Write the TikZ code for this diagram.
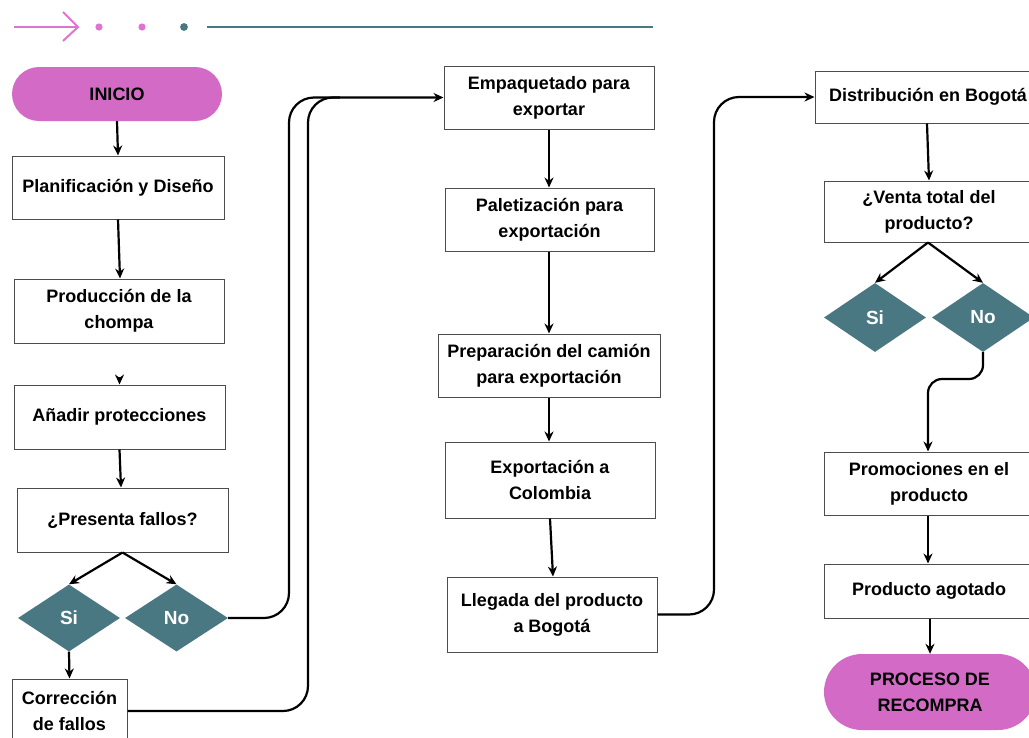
\documentclass[tikz,border=0pt]{standalone}
\usepackage{fontspec}
\setmainfont{Liberation Sans}
\usetikzlibrary{shapes.geometric,arrows.meta}

\definecolor{pinkfill}{HTML}{D36BC6}
\definecolor{tealfill}{HTML}{4A7882}
\definecolor{boxline}{HTML}{4D4D4D}
\definecolor{decopink}{HTML}{DC74D0}

\tikzset{
  stepbox/.style={draw=boxline, line width=1pt, fill=white, align=center,
    inner sep=0pt, font=\bfseries\fontsize{18}{26}\selectfont},
  pill/.style={fill=pinkfill, draw=none, align=center, inner sep=0pt,
    font=\bfseries\fontsize{18}{26}\selectfont},
  choice/.style={diamond, aspect=1.5, fill=tealfill, draw=none, inner sep=0pt,
    text=white, font=\bfseries\fontsize{19}{22}\selectfont},
  flow/.style={draw=black, line width=2.2pt, -{Stealth[length=10pt,width=9pt]}},
  curved/.style={flow, rounded corners=25pt},
}

\begin{document}
\begin{tikzpicture}[x=1pt,y=-1pt]
  \useasboundingbox (0,0) rectangle (1029,737);
  \clip (0,0) rectangle (1029,737);

  % header ornament
  \draw[decopink, line width=2pt] (14,27) -- (77,27);
  \draw[decopink, line width=2pt] (63,12) -- (78,27) -- (63,41);
  \fill[decopink] (99,27) circle (3.6pt);
  \fill[decopink] (142,27) circle (3.6pt);
  \fill[tealfill] (184,27) circle (3.9pt);
  \draw[tealfill, line width=2.6pt] (207,27) -- (653,27);

  % left column
  \node[pill, minimum width=210pt, minimum height=54pt, rounded corners=27pt] (inicio) at (117,94) {INICIO};
  \node[stepbox, minimum width=212pt, minimum height=63pt] (plan) at (118,187.5) {Planificación y Diseño};
  \node[stepbox, minimum width=210pt, minimum height=64pt] (prod) at (119,311) {Producción de la\\chompa};
  \node[stepbox, minimum width=211pt, minimum height=64pt] (anadir) at (119.5,417) {Añadir protecciones};
  \node[stepbox, minimum width=211pt, minimum height=64pt] (fallos) at (122.5,520) {¿Presenta fallos?};
  \node[choice, minimum width=102pt, minimum height=67pt] (si1) at (69,618) {Si};
  \node[choice, minimum width=103pt, minimum height=67pt] (no1) at (176.5,618) {No};
  \node[stepbox, minimum width=115pt, minimum height=63pt] (correc) at (69.5,710.5) {Corrección\\de fallos};

  % middle column
  \node[stepbox, minimum width=210pt, minimum height=63pt] (emp) at (549,97.5) {Empaquetado para\\exportar};
  \node[stepbox, minimum width=209pt, minimum height=63pt] (pal) at (549.5,219.5) {Paletización para\\exportación};
  \node[stepbox, minimum width=222pt, minimum height=63pt] (prep) at (549,365.5) {Preparación del camión\\para exportación};
  \node[stepbox, minimum width=210pt, minimum height=76pt] (expo) at (550,480) {Exportación a\\Colombia};
  \node[stepbox, minimum width=210pt, minimum height=75pt] (lleg) at (552,614.5) {Llegada del producto\\a Bogotá};

  % right column
  \node[stepbox, minimum width=226pt, minimum height=52pt] (dist) at (928,97) {Distribución en Bogotá};
  \node[stepbox, minimum width=210pt, minimum height=61pt] (venta) at (929,211.5) {¿Venta total del\\producto?};
  \node[choice, minimum width=102pt, minimum height=69pt] (si2) at (875,317.5) {Si};
  \node[choice, minimum width=102pt, minimum height=69pt] (no2) at (983,317.5) {No};
  \node[stepbox, minimum width=210pt, minimum height=63pt] (promo) at (929,483.5) {Promociones en el\\producto};
  \node[stepbox, minimum width=210pt, minimum height=54pt] (agot) at (929,591) {Producto agotado};
  \node[pill, minimum width=212pt, minimum height=76pt, rounded corners=38pt] (recompra) at (930,692) {PROCESO DE\\RECOMPRA};

  % connectors, left column
  \draw[flow] (inicio.south) -- (plan.north);
  \draw[flow] (plan.south) -- (prod.north -| 120,0);
  \coordinate (stub) at (119.5,377);
  \draw[flow] (stub) -- (anadir.north);
  \draw[flow] (anadir.south) -- (fallos.north -| 121,0);
  \draw[flow] (fallos.south) -- (si1.north);
  \draw[flow] (fallos.south) -- (no1.north);
  \draw[flow] (si1.south) -- (correc.north);

  % loops into the export stage
  \coordinate (merge) at (340,97.5);
  \draw[curved] (no1.east) -- (289,618) -- (289,97.5) -- (emp.west);
  \draw[curved, -] (correc.east |- 0,711) -- (308,711) -- (308,97.5) -- (merge);

  % connectors, middle column
  \draw[flow] (emp.south) -- (pal.north -| emp.south);
  \draw[flow] (pal.south -| emp.south) -- (prep.north -| emp.south);
  \draw[flow] (prep.south) -- (expo.north -| 549,0);
  \draw[flow] (expo.south) -- (lleg.north -| 553,0);
  \draw[curved] (lleg.east) -- (714,614.5) -- (714,97) -- (dist.west);

  % connectors, right column
  \draw[flow] (dist.south -| 927,0) -- (venta.north -| 929,0);
  \draw[flow] (venta.south -| 928,0) -- (si2.north);
  \draw[flow] (venta.south -| 928,0) -- (no2.north);
  \draw[flow, rounded corners=14pt] (no2.south) -- (983,379) -- (928,379) -- (promo.north -| 928,0);
  \draw[flow] (promo.south -| 928,0) -- (agot.north -| 928,0);
  \draw[flow] (agot.south -| 930,0) -- (recompra.north);
\end{tikzpicture}
\end{document}
